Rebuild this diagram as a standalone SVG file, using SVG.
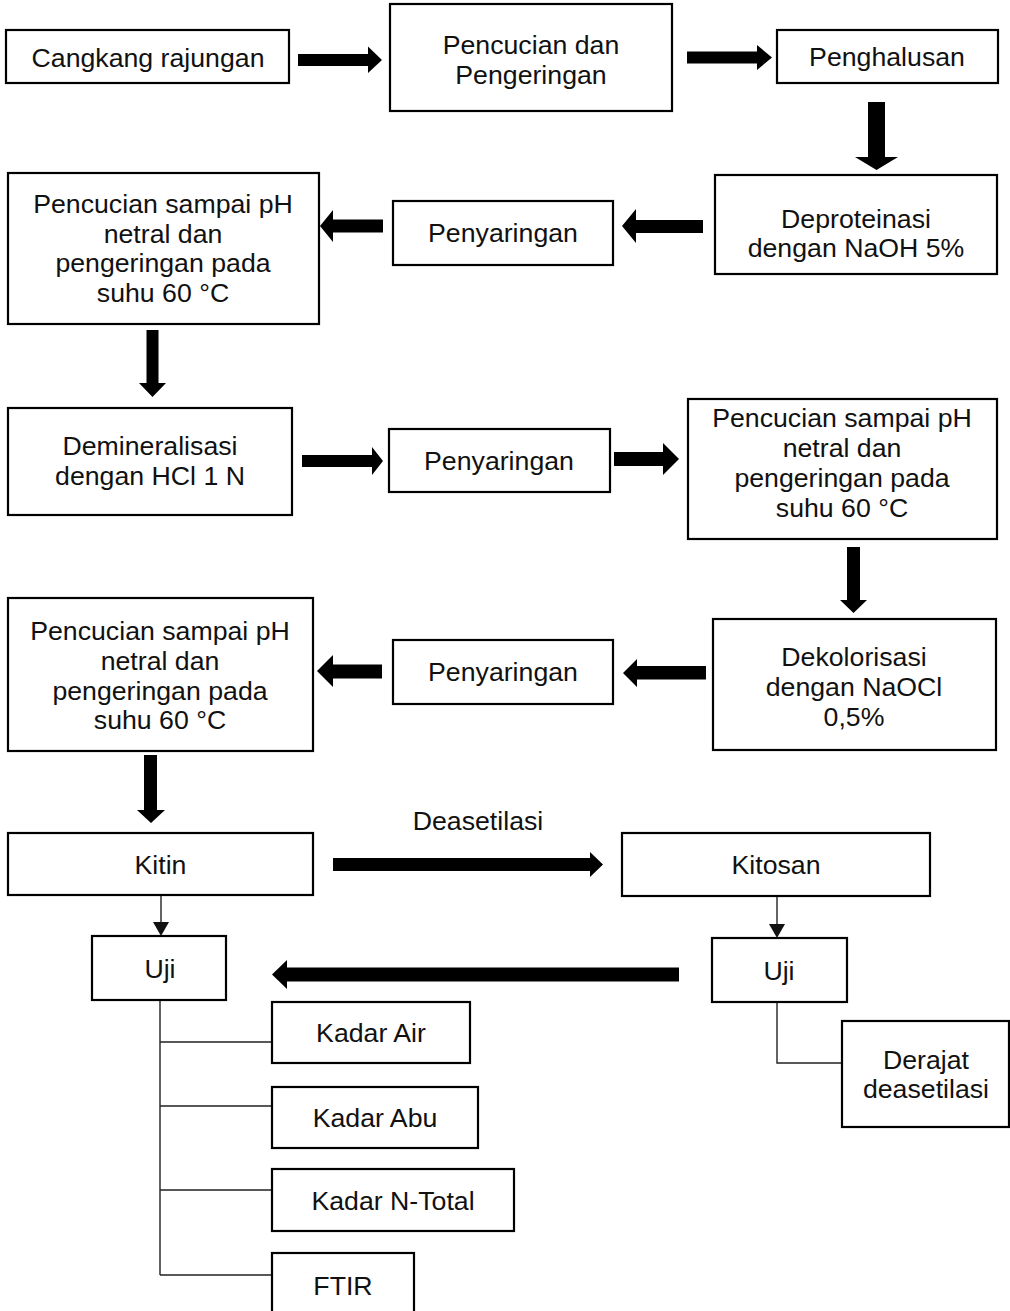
<svg xmlns="http://www.w3.org/2000/svg" width="1010" height="1311" viewBox="0 0 1010 1311">
<style>
rect.b{fill:#fff;stroke:#000;stroke-width:2.2}
text{font-family:"Liberation Sans",Arial,sans-serif;font-size:26.7px;fill:#111;text-anchor:middle}
.thin{fill:none;stroke:#222;stroke-width:1.4}
.blk{fill:#000}
</style>
<rect width="1010" height="1311" fill="#fff"/>
<g id="connectors">
<polygon class="blk" points="298,54 368,54 368,46.5 382,60 368,73 368,66 298,66"/>
<polygon class="blk" points="687,51.5 757,51.5 757,45 772,57.5 757,70 757,63.5 687,63.5"/>
<polygon class="blk" points="868,102 885,102 885,157 898,157 876.5,170 855,157 868,157"/>
<polygon class="blk" points="703,220 636,220 636,209 622,226 636,243 636,233 703,233"/>
<polygon class="blk" points="383,219.5 333,219.5 333,210 320,226 333,242 333,232.5 383,232.5"/>
<polygon class="blk" points="146.5,330 158.5,330 158.5,383 166,383 152.5,397 139,383 146.5,383"/>
<polygon class="blk" points="302,455 372,455 372,447 383,461 372,475 372,467 302,467"/>
<polygon class="blk" points="614,452 663,452 663,443 679,459 663,475 663,466 614,466"/>
<polygon class="blk" points="847,547 860,547 860,600 867,600 853.5,613 840,600 847,600"/>
<polygon class="blk" points="706,666 637,666 637,659 623,673 637,687 637,679.5 706,679.5"/>
<polygon class="blk" points="382,664.5 333,664.5 333,655 317,671 333,687 333,678.5 382,678.5"/>
<polygon class="blk" points="144,755 157,755 157,810 165,810 151,823 137,810 144,810"/>
<polygon class="blk" points="333,858 590,858 590,852 603,864.5 590,877 590,871 333,871"/>
<polygon class="blk" points="679,967.5 287,967.5 287,960 272,974.5 287,989 287,981.5 679,981.5"/>
<path class="thin" d="M161,896V923"/>
<polygon fill="#111" points="153,922 169,922 161,936"/>
<path class="thin" d="M777,896V924"/>
<polygon fill="#111" points="769,924 785,924 777,938"/>
<path class="thin" d="M160,1000V1275M160,1042H272M160,1106H272M160,1190H272M160,1275H272"/>
<path class="thin" d="M777,1002V1063H842"/>
</g>
<g id="n1"><rect class="b" x="6" y="30" width="283" height="53"/><text x="148" y="67">Cangkang rajungan</text></g>
<g id="n2"><rect class="b" x="390" y="4" width="282" height="107"/><text x="531" y="54">Pencucian dan</text><text x="531" y="84">Pengeringan</text></g>
<g id="n3"><rect class="b" x="777" y="30" width="221" height="53"/><text x="887" y="66">Penghalusan</text></g>
<g id="n4"><rect class="b" x="715" y="175" width="282" height="99"/><text x="856" y="228">Deproteinasi</text><text x="856" y="257">dengan NaOH 5%</text></g>
<g id="n5"><rect class="b" x="393" y="201" width="220" height="64"/><text x="503" y="242">Penyaringan</text></g>
<g id="n6"><rect class="b" x="8" y="173" width="311" height="151"/><text x="163" y="213">Pencucian sampai pH</text><text x="163" y="242.5">netral dan</text><text x="163" y="272">pengeringan pada</text><text x="163" y="301.5">suhu 60 °C</text></g>
<g id="n7"><rect class="b" x="8" y="408" width="284" height="107"/><text x="150" y="455">Demineralisasi</text><text x="150" y="485">dengan HCl 1 N</text></g>
<g id="n8"><rect class="b" x="389" y="429" width="221" height="63"/><text x="499" y="470">Penyaringan</text></g>
<g id="n9"><rect class="b" x="688" y="399" width="309" height="140"/><text x="842" y="427">Pencucian sampai pH</text><text x="842" y="457">netral dan</text><text x="842" y="487">pengeringan pada</text><text x="842" y="517">suhu 60 °C</text></g>
<g id="n10"><rect class="b" x="713" y="619" width="283" height="131"/><text x="854" y="666">Dekolorisasi</text><text x="854" y="696">dengan NaOCl</text><text x="854" y="726">0,5%</text></g>
<g id="n11"><rect class="b" x="393" y="640" width="220" height="64"/><text x="503" y="681">Penyaringan</text></g>
<g id="n12"><rect class="b" x="8" y="598" width="305" height="153"/><text x="160" y="640">Pencucian sampai pH</text><text x="160" y="670">netral dan</text><text x="160" y="700">pengeringan pada</text><text x="160" y="729">suhu 60 °C</text></g>
<g id="lbl"><text x="478" y="830">Deasetilasi</text></g>
<g id="n13"><rect class="b" x="8" y="833" width="305" height="62"/><text x="160.5" y="874">Kitin</text></g>
<g id="n14"><rect class="b" x="622" y="833" width="308" height="63"/><text x="776" y="874">Kitosan</text></g>
<g id="n15"><rect class="b" x="92" y="936" width="134" height="64"/><text x="160" y="978">Uji</text></g>
<g id="n16"><rect class="b" x="712" y="938" width="135" height="64"/><text x="779" y="980">Uji</text></g>
<g id="n17"><rect class="b" x="842" y="1021" width="167" height="106"/><text x="926" y="1069">Derajat</text><text x="926" y="1098">deasetilasi</text></g>
<g id="n18"><rect class="b" x="272" y="1002" width="198" height="61"/><text x="371" y="1042">Kadar Air</text></g>
<g id="n19"><rect class="b" x="272" y="1087" width="206" height="61"/><text x="375" y="1127">Kadar Abu</text></g>
<g id="n20"><rect class="b" x="272" y="1169" width="242" height="62"/><text x="393" y="1210">Kadar N-Total</text></g>
<g id="n21"><rect class="b" x="272" y="1253" width="142" height="62"/><text x="343" y="1295">FTIR</text></g>
</svg>
